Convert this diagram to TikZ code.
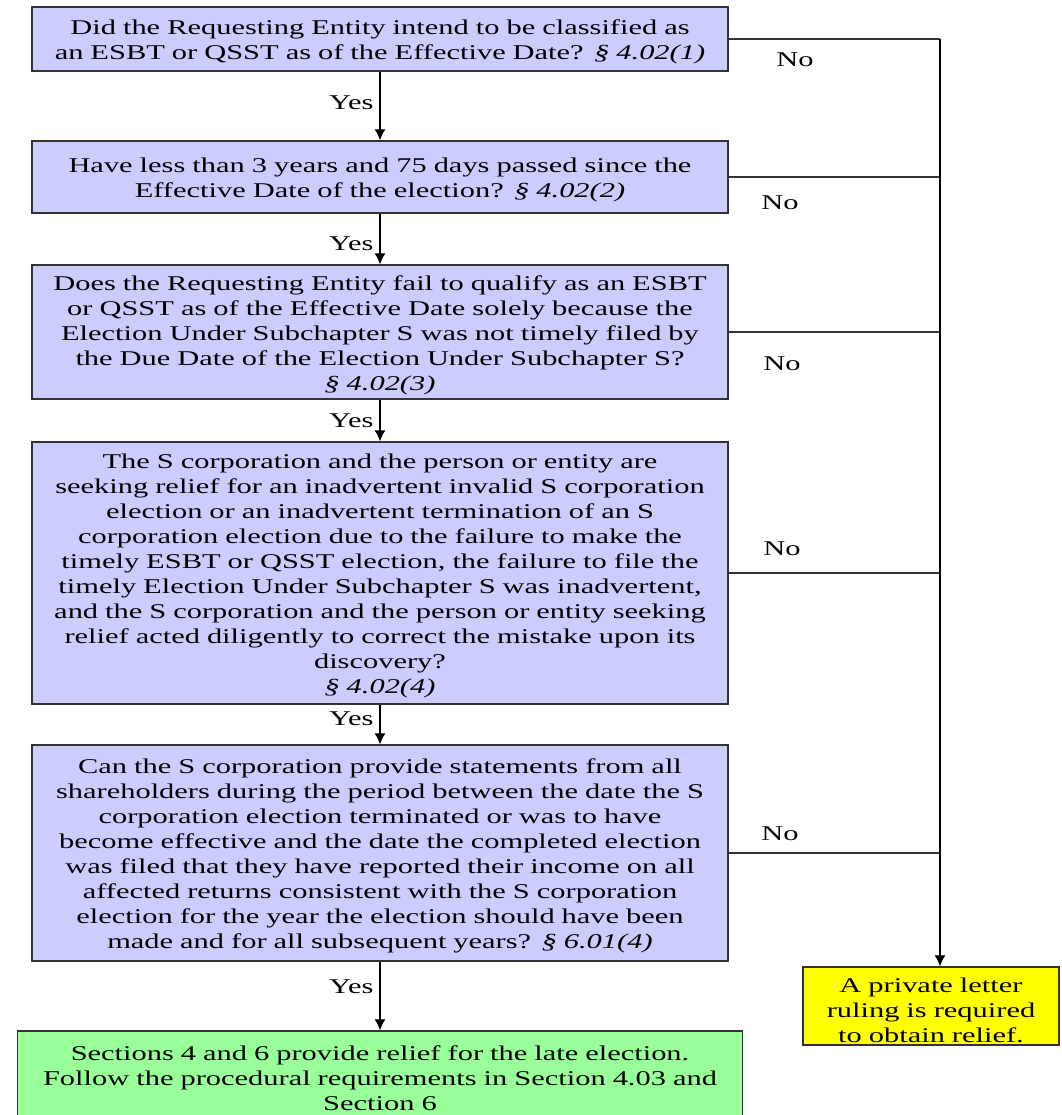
\documentclass[tikz,border=0pt]{standalone}
\usepackage{fontspec}
\setmainfont[FakeStretch=1.45]{Liberation Serif}
\usepackage{tikz}
\usetikzlibrary{arrows.meta}
\definecolor{qblue}{HTML}{CCCCFF}
\definecolor{okgreen}{HTML}{99FF99}
\definecolor{plryellow}{HTML}{FFFF00}
\definecolor{edge}{HTML}{333333}

\begin{document}
\begin{tikzpicture}[x=1pt, y=-1pt,
  font=\fontsize{21}{25}\selectfont,
  question/.style={draw=edge, line width=1.4pt, fill=qblue, align=center,
    text width=680pt, inner xsep=8pt, inner ysep=0pt,
    execute at begin node={\rule{0pt}{21pt}}},
  yesarrow/.style={draw=black, line width=1.2pt, -{Latex[length=11pt,width=11pt]}},
  noline/.style={draw=edge, line width=1.2pt}]

\useasboundingbox (0,0) rectangle (1061,1115);

%Questions
\node[question, minimum height=64pt] (q1) at (380,39)
  {Did the Requesting Entity intend to be classified as\\
   an ESBT or QSST as of the Effective Date? \textit{§ 4.02(1)}};
\node[question, minimum height=72pt] (q2) at (380,177)
  {Have less than 3 years and 75 days passed since the\\
   Effective Date of the election? \textit{§ 4.02(2)}};
\node[question, minimum height=134pt] (q3) at (380,332)
  {Does the Requesting Entity fail to qualify as an ESBT\\
   or QSST as of the Effective Date solely because the\\
   Election Under Subchapter S was not timely filed by\\
   the Due Date of the Election Under Subchapter S?\\
   \textit{§ 4.02(3)}};
\node[question, minimum height=262pt] (q4) at (380,573)
  {The S corporation and the person or entity are\\
   seeking relief for an inadvertent invalid S corporation\\
   election or an inadvertent termination of an S\\
   corporation election due to the failure to make the\\
   timely ESBT or QSST election, the failure to file the\\
   timely Election Under Subchapter S was inadvertent,\\
   and the S corporation and the person or entity seeking\\
   relief acted diligently to correct the mistake upon its\\
   discovery?\\
   \textit{§ 4.02(4)}};
\node[question, minimum height=216pt] (q5) at (380,853)
  {Can the S corporation provide statements from all\\
   shareholders during the period between the date the S\\
   corporation election terminated or was to have\\
   become effective and the date the completed election\\
   was filed that they have reported their income on all\\
   affected returns consistent with the S corporation\\
   election for the year the election should have been\\
   made and for all subsequent years? \textit{§ 6.01(4)}};

%Outcomes
\node[draw=edge, line width=1.4pt, fill=okgreen, align=center,
  text width=709pt, inner xsep=8pt, inner ysep=0pt, minimum height=94pt] (relief) at (380,1078)
  {Sections 4 and 6 provide relief for the late election.\\
   Follow the procedural requirements in Section 4.03 and\\
   Section 6};
\node[draw=edge, line width=1.4pt, fill=plryellow, align=center,
  text width=240pt, inner xsep=8pt, inner ysep=0pt, minimum height=78pt] (ruling) at (931,1006)
  {\rule{0pt}{23pt}A private letter\\ ruling is required\\ to obtain relief.};

%Yes
\draw[yesarrow] (q1.south) -- (q2.north);
\draw[yesarrow] (q2.south) -- (q3.north);
\draw[yesarrow] (q3.south) -- (q4.north);
\draw[yesarrow] (q4.south) -- (q5.north);
\draw[yesarrow] (q5.south) -- (relief.north);
\node[anchor=east] (yes1) at (377,103) {Yes};
\node[anchor=east] (yes2) at (377,244) {Yes};
\node[anchor=east] (yes3) at (377,421) {Yes};
\node[anchor=east] (yes4) at (377,719) {Yes};
\node[anchor=east] (yes5) at (377,987) {Yes};

%No
\coordinate (trunk) at (940,0);
\draw[noline] (q1.east) -- (q1.east -| trunk);
\draw[noline] (q2.east) -- (q2.east -| trunk);
\draw[noline] (q3.east) -- (q3.east -| trunk);
\draw[noline] (q4.east) -- (q4.east -| trunk);
\draw[noline] (q5.east) -- (q5.east -| trunk);
\draw[yesarrow] (q1.east -| trunk) -- (ruling.north -| trunk);
\node (no1) at (795,60) {No};
\node (no2) at (780,203) {No};
\node (no3) at (782,364) {No};
\node (no4) at (782,549) {No};
\node (no5) at (780,834) {No};

\end{tikzpicture}
\end{document}
